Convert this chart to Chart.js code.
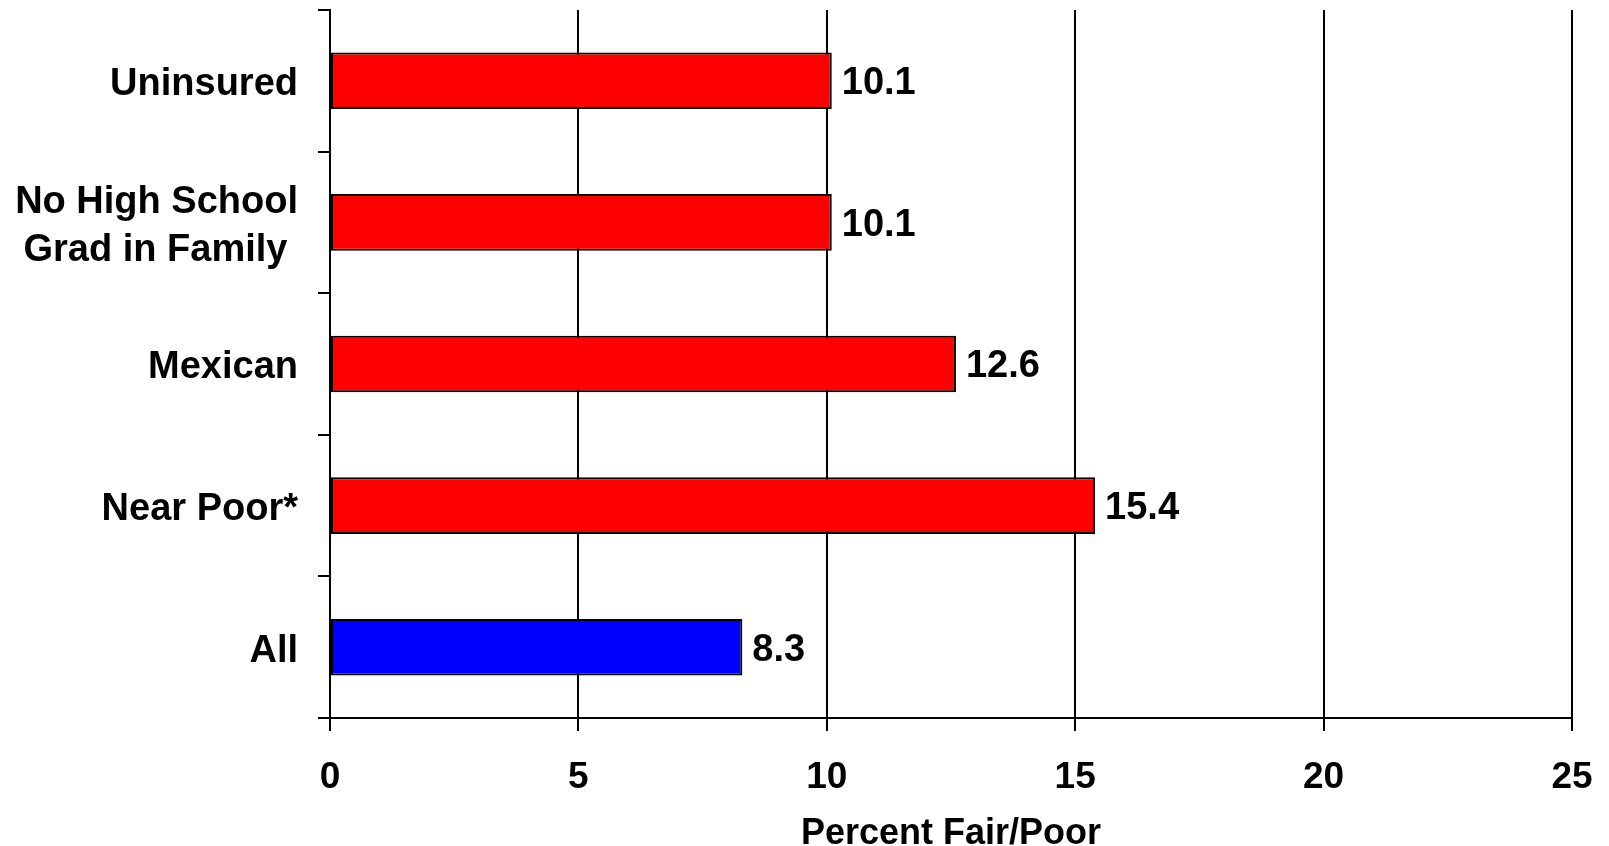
<html>
<head>
  <title>Percent Fair/Poor</title>
  <script src="https://cdn.jsdelivr.net/npm/chart.js"></script>
  <style>
    body { background: #fff; margin: 0; padding: 0; overflow: hidden; }
    #Chart { display: block; }
  </style>
</head>
<body>
  <canvas id="Chart" width="1609" height="846"></canvas>

  <script>
// values, top row first
const categories = ['Uninsured', ['No High School', 'Grad in Family '], 'Mexican', 'Near Poor*', 'All'];
const percentFairPoor = [10.1, 10.1, 12.6, 15.4, 8.3];
const barColors = ['#ff0000', '#ff0000', '#ff0000', '#ff0000', '#0000ff'];
const xTicks = [0, 5, 10, 15, 20, 25];

const FONT = '"Liberation Sans", Arial, sans-serif';

// numbers next to the bar ends
const valueLabels = {
  id: 'valueLabels',
  afterDatasetsDraw(chart) {
    const ctx = chart.ctx;
    const meta = chart.getDatasetMeta(0);
    ctx.save();
    ctx.font = 'bold 38px ' + FONT;
    ctx.fillStyle = '#000';
    ctx.textAlign = 'left';
    ctx.textBaseline = 'middle';
    meta.data.forEach((bar, i) => {
      ctx.fillText(percentFairPoor[i].toFixed(1), bar.x + 10, bar.y + 3);
    });
    ctx.restore();
  }
};

const config = {
  type: 'bar',
  data: {
    labels: categories,
    datasets: [{
      data: percentFairPoor,
      backgroundColor: barColors,
      borderColor: '#000',
      borderWidth: 2,
      borderSkipped: false,
      categoryPercentage: 1,
      barPercentage: 0.4
    }]
  },
  options: {
    indexAxis: 'y',
    responsive: false,
    animation: false,
    layout: { padding: { top: 10, right: 37, left: 0, bottom: 0 } },
    plugins: {
      legend: { display: false },
      tooltip: { enabled: false }
    },
    scales: {
      x: {
        min: 0,
        max: 25,
        afterBuildTicks: scale => { scale.ticks = xTicks.map(v => ({ value: v })); },
        afterFit: scale => {
          scale.height = 128;
          scale.paddingLeft = 0;
          scale.paddingRight = 0;
        },
        grid: { color: '#000', lineWidth: 2, tickLength: 13 },
        border: { color: '#000', width: 2 },
        ticks: { color: '#000', padding: 25, maxRotation: 0, font: { family: FONT, size: 37, weight: 'bold' } },
        title: {
          display: true,
          text: 'Percent Fair/Poor',
          color: '#000',
          padding: { top: 0, bottom: -10 },
          font: { family: FONT, size: 36, weight: 'bold' }
        }
      },
      y: {
        afterFit: scale => {
          scale.width = 330;
          scale.paddingTop = 0;
          scale.paddingBottom = 0;
        },
        grid: { drawOnChartArea: false, color: '#000', lineWidth: 2, tickLength: 12 },
        border: { color: '#000', width: 2 },
        ticks: {
          color: '#000',
          padding: 20,
          labelOffset: 4,
          font: { family: FONT, size: 38, weight: 'bold', lineHeight: 1.26 }
        }
      }
    }
  },
  plugins: [valueLabels]
};

let chart;
window.addEventListener('load', () => {
  chart = new Chart(document.getElementById('Chart').getContext('2d'), config);
});
  </script>
</body>
</html>
